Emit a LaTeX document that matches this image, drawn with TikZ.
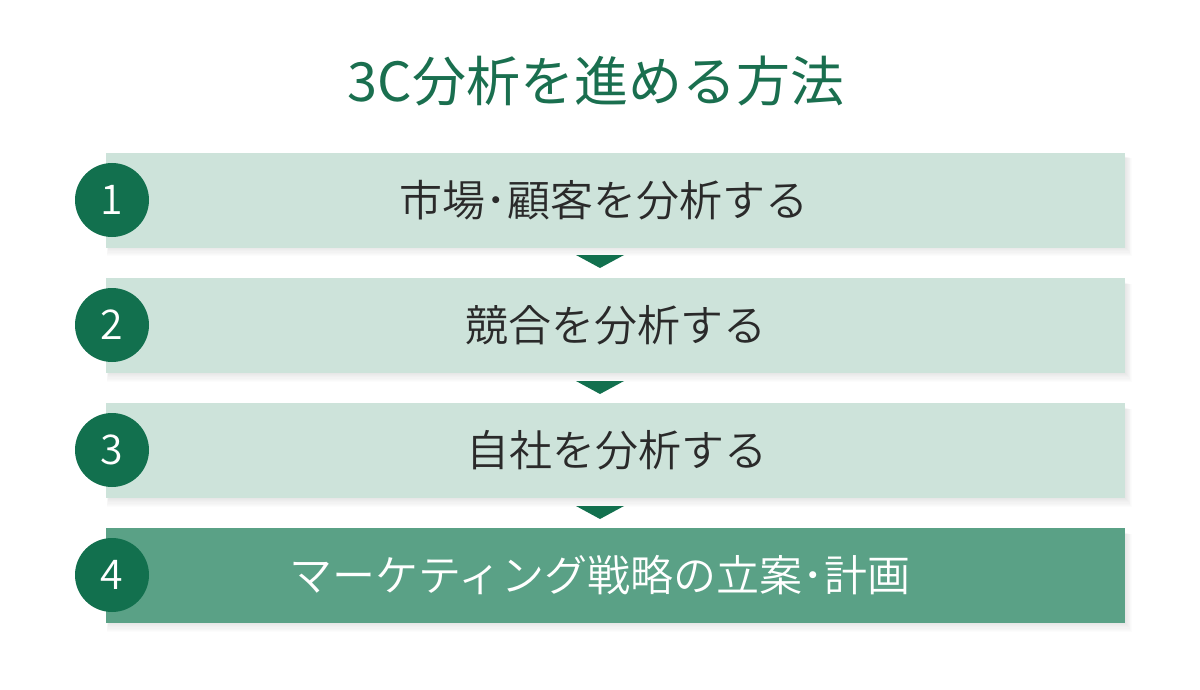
\documentclass[tikz,border=0pt]{standalone}
\usepackage{fontspec}
\setmainfont{Noto Sans CJK JP}
\newfontfamily\lightjp{Noto Sans CJK JP DemiLight}
\definecolor{dkgreen}{HTML}{12704E}
\definecolor{titlegreen}{HTML}{1A6F4F}
\definecolor{lightbox}{HTML}{CDE3DA}
\definecolor{midbox}{HTML}{5AA186}
\definecolor{txtgray}{HTML}{2A2A2A}
\begin{document}
\begin{tikzpicture}[x=1pt,y=-1pt,
  stepbox/.style={rectangle, minimum width=1019pt, minimum height=95pt, inner sep=0pt, anchor=north west},
  steptext/.style={inner sep=0pt, font=\lightjp\fontsize{43}{43}\selectfont, text=txtgray},
  numcirc/.style={circle, fill=dkgreen, minimum size=74pt, inner sep=0pt, text=white, font=\lightjp\fontsize{41}{41}\selectfont},
  titletext/.style={inner sep=0pt, font=\fontsize{54}{54}\selectfont, text=titlegreen},
  arrowtri/.style={fill=dkgreen}]
\useasboundingbox (0,0) rectangle (1200,690);
\fill[white] (0,0) rectangle (1200,690);
% soft shadows
\foreach \y in {152,278,403,528} {
  \foreach \k in {1,...,8}
    \fill[black,opacity=0.011] (106+3-\k*0.3, \y+4+\k*0.3) rectangle (1125+\k*0.9, \y+95+\k*1.1);
}
\node[titletext] (title) at (596,81) {3C分析を進める方法};
\node[stepbox, fill=lightbox] (b1) at (106,152.5) {};
\node[stepbox, fill=lightbox] (b2) at (106,278) {};
\node[stepbox, fill=lightbox] (b3) at (106,403) {};
\node[stepbox, fill=midbox] (b4) at (106,528) {};
\node[steptext] (t1) at (604,200) {市場･顧客を分析する};
\node[steptext] (t2) at (616,325) {競合を分析する};
\node[steptext] (t3) at (617,450) {自社を分析する};
\node[steptext, text=white] (t4) at (600,575) {マーケティング戦略の立案･計画};
\node[numcirc] (c1) at (112,200) {1};
\node[numcirc] (c2) at (112,325) {2};
\node[numcirc] (c3) at (112,450) {3};
\node[numcirc] (c4) at (112,575) {4};
\fill[arrowtri] (576,255) -- (624,255) -- (600,268) -- cycle;
\fill[arrowtri] (576,381) -- (624,381) -- (600,394) -- cycle;
\fill[arrowtri] (576,506) -- (624,506) -- (600,519) -- cycle;
\end{tikzpicture}
\end{document}
